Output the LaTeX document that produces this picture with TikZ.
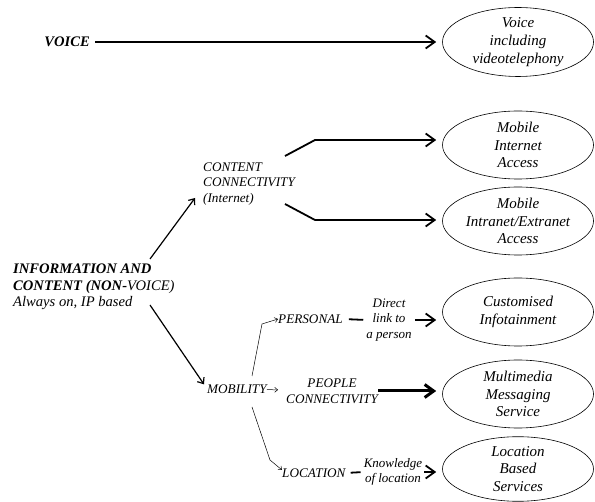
\documentclass[tikz,border=0pt]{standalone}
\usepackage{fontspec}
\setmainfont{Liberation Serif}
\usetikzlibrary{shapes.geometric,arrows.meta}
\begin{document}
\begin{tikzpicture}[x=1pt,y=-1pt,
	service/.style={ellipse,draw,line width=.6pt,minimum width=151pt,minimum height=68pt,inner sep=0pt,align=center,font=\fontsize{15}{17.8}\selectfont\itshape},
	head/.style={align=left,inner sep=0pt,font=\fontsize{14.6}{16.5}\selectfont\itshape},
	tag/.style={align=left,inner sep=0pt,font=\fontsize{13.2}{15.5}\selectfont\itshape},
	note/.style={align=center,inner sep=0pt,font=\fontsize{13}{15.3}\selectfont\itshape},
	feed/.style={line width=1.8pt,-{Straight Barb[length=9pt,width=13pt]},shorten >=6pt},
	heavy/.style={line width=3pt,-{Straight Barb[length=9pt,width=13pt]},shorten >=6pt},
	branch/.style={line width=1.2pt,-{Straight Barb[length=5pt,width=8pt]}},
	twig/.style={line width=.5pt,-{Straight Barb[length=3pt,width=5pt]}},
	link/.style={line width=1.8pt}]
	\useasboundingbox(0,0)rectangle(595,502);
	% services
	\node[service](vt)at(518,42){Voice\\including\\videotelephony};
	\node[service](mia)at(518,145){Mobile\\Internet\\Access};
	\node[service](mie)at(518,221){Mobile\\Intranet/Extranet\\Access};
	\node[service](ci)at(518,312){Customised\\Infotainment};
	\node[service](mms)at(518,394){Multimedia\\Messaging\\Service};
	\node[service,minimum height=64pt](lbs)at(518,469){Location\\Based\\Services};
	% sources
	\node[head,anchor=east,font=\fontsize{14.6}{16.5}\selectfont\bfseries\itshape](voice)at(90,42){VOICE};
	\node[head,anchor=west](nv)at(13,287){\textbf{INFORMATION AND}\\\textbf{CONTENT (NON-}VOICE)\\Always on, IP based};
	\node[tag,anchor=west](cc)at(203,184){CONTENT\\CONNECTIVITY\\(Internet)};
	\node[tag,anchor=west](mob)at(207,389){MOBILITY};
	\node[tag,anchor=west](pers)at(278,319){PERSONAL};
	\node[tag,align=center,anchor=west](ppl)at(286,391){PEOPLE\\CONNECTIVITY};
	\node[tag,anchor=west](loc)at(282,473){LOCATION};
	\node[note](dl)at(389,320){Direct\\link to\\a person};
	\node[note](kl)at(393,472){Knowledge\\of location};
	% bends
	\coordinate(cu1)at(285,156);\coordinate(cu2)at(315,140);
	\coordinate(cl1)at(285,204);\coordinate(cl2)at(315,220);
	\coordinate(nvu)at(150,259);\coordinate(ccin)at(195,198);
	\coordinate(nvd)at(150,305);
	\coordinate(mu1)at(252,376);\coordinate(mu2)at(262,324);
	\coordinate(md1)at(252,407);\coordinate(md2)at(270,460);
	% connectors
	\draw[feed,shorten <=5pt](voice.east)--(vt.west);
	\draw[feed](cu1)--(cu2)--(cu2-|mia.west);
	\draw[feed](cl1)--(cl2)--(cl2-|mie.west);
	\draw[branch](nvu)--(ccin);
	\draw[branch](nvd)--([xshift=-3pt]mob.north west);
	\draw[twig](mu1)--(mu2)--(pers.west);
	\draw[twig,shorten >=8pt](mob)--(ppl);
	\draw[twig](md1)--(md2)--([yshift=3pt]loc.west);
	\draw[link,shorten <=6pt,shorten >=3pt](pers.east)--(dl.west);
	\draw[feed,shorten <=3pt](dl.east)--(dl.east-|ci.west);
	\draw[heavy](ppl.east)--(ppl.east-|mms.west);
	\draw[link,shorten <=5pt,shorten >=3pt](loc.east)--(kl.west);
	\draw[feed,shorten <=2pt](kl.east)--(kl.east-|lbs.west);
\end{tikzpicture}
\end{document}
